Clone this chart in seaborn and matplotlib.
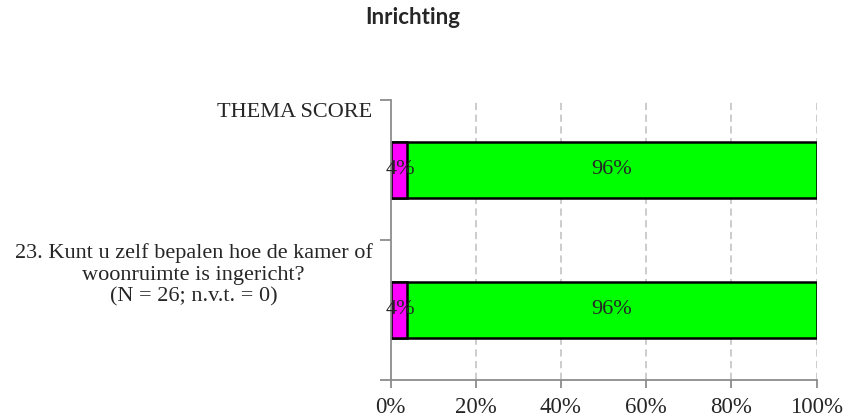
import numpy as np
import pandas as pd
import matplotlib
matplotlib.use('Agg')
import matplotlib.pyplot as plt
import seaborn as sns

# data
categories = ['THEMA SCORE',
              '23. Kunt u zelf bepalen hoe de kamer of\nwoonruimte is ingericht?\n(N = 26; n.v.t. = 0)']
pct_neg = [3.85, 3.85]
pct_pos = [96.15, 96.15]
x_ticks = [0, 20, 40, 60, 80, 100]

sns.set_style('white')
plt.rcParams['font.family'] = ['Liberation Serif', 'DejaVu Serif']

df = pd.DataFrame({'cat': categories, 'neg': pct_neg, 'pos': pct_pos})
df['total'] = df['neg'] + df['pos']

fig = plt.figure(figsize=(8.48, 4.19), dpi=100)
ax = fig.add_axes([390.5 / 848, 39 / 419, 426 / 848, 280 / 419])

# gestapelde balken: eerst totaal (groen), dan negatief deel (roze)
sns.barplot(data=df, x='total', y='cat', orient='h', color='#00FF00',
            edgecolor='black', linewidth=1.8, width=0.4, ax=ax, saturation=1)
sns.barplot(data=df, x='neg', y='cat', orient='h', color='#FF00FF',
            edgecolor='black', linewidth=1.8, width=0.4, ax=ax, saturation=1)

ax.set_xlim(0, 100)
ax.set_ylim(1.5, -0.5)
ax.set_xlabel('')
ax.set_ylabel('')

# data labels
for i in range(len(categories)):
    ax.text(pct_neg[i] / 2 + 0.3, i, f'{pct_neg[i]:.0f}%', ha='center', va='center', fontsize=16)
    ax.text(pct_neg[i] + pct_pos[i] / 2, i, f'{pct_pos[i]:.0f}%', ha='center', va='center',
            fontsize=16)

# categorie labels (staan hoger dan de balk, zoals in Excel)
ax.set_yticks([-0.5, 0.5, 1.5])
ax.set_yticklabels([])
label_y = [-0.41, 0.75]
for i, lab in enumerate(categories):
    ax.text(-18 / 426 * 100, label_y[i], lab, ha='right', va='center',
            multialignment='center', fontsize=16, linespacing=1.2)

ax.set_xticks(x_ticks)
ax.set_xticklabels([f'{v}%' for v in x_ticks], fontsize=16.5)
ax.tick_params(axis='y', direction='out', length=8, color='#8c8c8c', width=1.3, left=True)
ax.tick_params(axis='x', direction='out', length=6, color='#8c8c8c', width=1.3, bottom=True,
               pad=6)

for v in x_ticks[1:]:
    ax.axvline(v, color='#c8c8c8', linestyle=(0, (4, 2.5)), linewidth=1.3, zorder=0)

for s in ['top', 'right']:
    ax.spines[s].set_visible(False)
for s in ['left', 'bottom']:
    ax.spines[s].set_color('#8c8c8c')
    ax.spines[s].set_linewidth(1.3)

fig.text(413 / 848, 1 - 18 / 419, 'Inrichting', ha='center', va='center', fontsize=16,
         fontweight='bold', family=['Lato', 'DejaVu Sans'])

fig.savefig('out.png', dpi=100)
